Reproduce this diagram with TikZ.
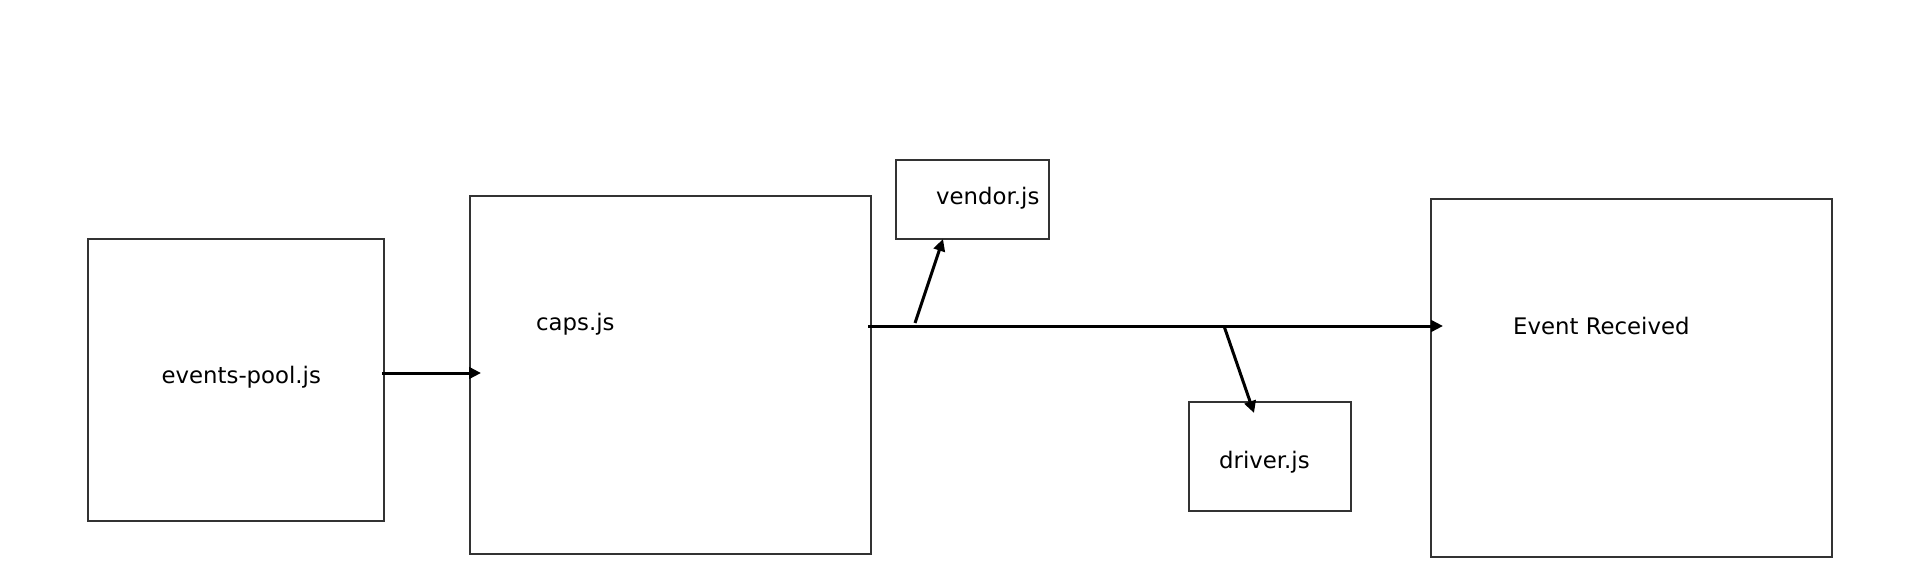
\documentclass[tikz,border=0pt]{standalone}
\usepackage{fontspec}
\setmainfont{DejaVu Sans}
\usetikzlibrary{arrows.meta,calc}
\definecolor{boxc}{HTML}{333333}
\begin{document}
\begin{tikzpicture}[x=1pt,y=1pt,
  box/.style={draw=boxc,line width=1.6pt,rectangle,inner sep=0pt,outer sep=0pt},
  lbl/.style={anchor=base west,inner sep=0pt,font=\fontsize{22.8pt}{27pt}\selectfont},
  arr/.style={line width=3pt,-{Triangle[length=12pt,width=11.5pt]}}]
\useasboundingbox (0,0) rectangle (1919,-583);
% boxes
\node[box,minimum width=296pt,minimum height=282pt] (ep) at (236,-380) {};
\node[box,minimum width=401pt,minimum height=358pt] (caps) at (670.5,-375) {};
\node[box,minimum width=153pt,minimum height=79pt] (vendor) at (972.5,-199.5) {};
\node[box,minimum width=162pt,minimum height=109pt] (driver) at (1270,-456.5) {};
\node[box,minimum width=401pt,minimum height=358pt] (event) at (1631.5,-378) {};
% labels
\node[lbl] (eptext) at (161.5,-383) {events-pool.js};
\node[lbl] (capstext) at (536,-330) {caps.js};
\node[lbl] (vendortext) at (936,-204) {vendor.js};
\node[lbl] (drivertext) at (1219,-468.5) {driver.js};
\node[lbl] (eventtext) at (1513,-334) {Event Received};
% connectors
\draw[arr] ($(ep.east)+(-2,7)$) -- ($(caps.west)+(11,2)$);
\draw[arr] ($(caps.east)+(-3,49)$) -- ($(event.west)+(12,52)$);
\coordinate (vstart) at (915,-323);
\coordinate (dstart) at (1224,-326);
\draw[arr] (vstart) -- ($(vendor.south west)+(47,0)$);
\draw[arr] (dstart) -- ($(driver.north west)+(65,-11)$);
\end{tikzpicture}
\end{document}
